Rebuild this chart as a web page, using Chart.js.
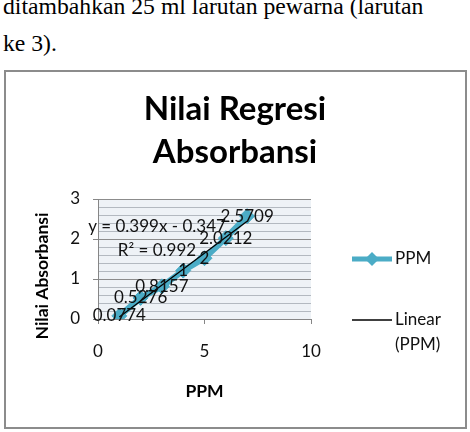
<!DOCTYPE html>
<html><head><meta charset="utf-8">
<script src="https://cdn.jsdelivr.net/npm/chart.js@4.4.1/dist/chart.umd.min.js"></script>
<style>
html,body{margin:0;padding:0;background:#fff;width:470px;height:432px;overflow:hidden;}
#doc{position:absolute;left:3px;top:-12px;font-family:"Liberation Serif","Times New Roman",serif;font-size:23.7px;line-height:37px;color:#000;white-space:nowrap;}
#box{position:absolute;left:4px;top:70px;width:463px;height:359px;box-sizing:border-box;border:2px solid #8c8c8c;}
#wrap{position:absolute;left:0;top:0;width:470px;height:432px;}
</style></head><body>
<div id="doc">ditambahkan 25 ml larutan pewarna (larutan<br>ke 3).</div>
<div id="box"></div>
<div id="wrap"><canvas id="c" width="470" height="432"></canvas></div>
<script>
// ---- data ----
const ppm = [1, 2, 3, 4, 5, 6, 7];
const absorbansi = [0.0774, 0.5276, 0.8157, 1.21, 1.52, 2.0212, 2.5709];
const dataLabels = ['0.0774', '0.5276', '0.8157', '1', '2', '2.0212', '2.5709'];
const trendX = [1, 7];
const trendY = [0.052, 2.446];
const equationText = 'y = 0.399x - 0.347';
const r2Text = 'R² = 0.992';
const titleLines = ['Nilai Regresi', 'Absorbansi'];
const xTitle = 'PPM';
const yTitle = 'Nilai Absorbansi';
const seriesName = 'PPM';
const trendName = ['Linear', '(PPM)'];

const FONT = 'Lato, "Open Sans", sans-serif';
const TEAL = '#4bacc6';

const isInt = v => Math.abs(v - Math.round(v)) < 1e-6;

const bgPlugin = {
  id: 'plotBg',
  beforeDraw(chart) {
    const {ctx, chartArea: a} = chart;
    ctx.save();
    ctx.fillStyle = '#eef2f6';
    ctx.fillRect(a.left, a.top, a.right - a.left, a.bottom - a.top);
    ctx.restore();
  }
};

const labelPlugin = {
  id: 'labelsAndLegend',
  afterDraw(chart) {
    const {ctx, chartArea: a} = chart;
    ctx.save();
    ctx.font = '17px ' + FONT;
    ctx.fillStyle = '#111';
    ctx.textAlign = 'center';
    ctx.textBaseline = 'middle';
    const meta = chart.getDatasetMeta(1);
    meta.data.forEach((el, i) => {
      ctx.fillText(dataLabels[i], el.x, el.y);
    });
    // trendline equation
    ctx.fillText(equationText, a.left + 59, a.top + 28);
    ctx.fillText(r2Text, a.left + 59, a.top + 52);

    // legend
    const ds = chart.data.datasets;
    const lx = 352, lw = 40;
    const y1 = 259, y2 = 320;
    ctx.strokeStyle = ds[1].borderColor;
    ctx.lineWidth = 5;
    ctx.beginPath(); ctx.moveTo(lx, y1); ctx.lineTo(lx + lw, y1); ctx.stroke();
    ctx.fillStyle = ds[1].backgroundColor;
    ctx.beginPath();
    const cx = lx + lw / 2, r = 7;
    ctx.moveTo(cx, y1 - r); ctx.lineTo(cx + r, y1); ctx.lineTo(cx, y1 + r); ctx.lineTo(cx - r, y1); ctx.closePath(); ctx.fill();
    ctx.strokeStyle = ds[0].borderColor;
    ctx.lineWidth = 1.3;
    ctx.beginPath(); ctx.moveTo(lx, y2); ctx.lineTo(lx + lw, y2); ctx.stroke();
    ctx.fillStyle = '#111';
    ctx.textAlign = 'left';
    ctx.fillText(ds[1].label, lx + lw + 3, y1);
    ctx.fillText(trendName[0], lx + lw + 3, y2);
    ctx.fillText(trendName[1], lx + lw + 3, y2 + 25);
    ctx.restore();
  }
};

new Chart(document.getElementById('c'), {
  type: 'scatter',
  data: {
    datasets: [
      {
        label: trendName.join(' '),
        data: trendX.map((x, i) => ({x, y: trendY[i]})),
        showLine: true,
        borderColor: '#000',
        borderWidth: 1.3,
        pointRadius: 0,
        order: 0
      },
      {
        label: seriesName,
        data: ppm.map((x, i) => ({x, y: absorbansi[i]})),
        showLine: true,
        borderColor: TEAL,
        backgroundColor: TEAL,
        borderWidth: 6,
        pointStyle: 'rectRot',
        pointRadius: 7.5,
        pointBorderWidth: 1,
        order: 1
      }
    ]
  },
  options: {
    responsive: false,
    animation: false,
    devicePixelRatio: 1,
    layout: {padding: {top: 0, left: 0, right: 0, bottom: 0}},
    plugins: {
      legend: {display: false},
      tooltip: {enabled: false},
      title: {
        display: true,
        text: titleLines,
        color: '#000',
        font: {family: FONT, size: 33, weight: 'bold', lineHeight: 43 / 33},
        padding: {top: 88, bottom: 25}
      }
    },
    scales: {
      x: {
        type: 'linear', min: 0, max: 10,
        ticks: {stepSize: 5, color: '#111', font: {family: FONT, size: 17}, padding: 17},
        grid: {drawOnChartArea: false, tickLength: 5, color: '#868686'},
        border: {color: '#868686'},
        title: {display: true, text: xTitle, color: '#000', font: {family: FONT, size: 17.5, weight: 'bold'}, padding: {top: 0, bottom: 30}},
        afterFit(s) { s.height = 113; }
      },
      y: {
        min: 0, max: 3,
        ticks: {
          stepSize: 0.2, autoSkip: false, color: '#111', font: {family: FONT, size: 17}, padding: 13,
          callback: v => isInt(v) ? String(Math.round(v)) : ''
        },
        grid: {
          tickLength: 5,
          color: c => (c.tick && isInt(c.tick.value)) ? '#8c8c8c' : '#b3b9c0',
          tickColor: c => (c.tick && isInt(c.tick.value)) ? '#868686' : 'rgba(0,0,0,0)'
        },
        border: {color: '#868686'},
        title: {display: true, text: yTitle + '        ', color: '#000', font: {family: FONT, size: 17.5, weight: 'bold'}, padding: {top: 32, bottom: 0}},
        afterFit(s) { s.width = 98; }
      },
      legendSpace: {
        type: 'linear', position: 'right', display: true,
        grid: {display: false, drawOnChartArea: false},
        border: {display: false},
        ticks: {display: false},
        afterFit(s) { s.width = 159; }
      }
    }
  },
  plugins: [bgPlugin, labelPlugin]
});
</script>
</body></html>
